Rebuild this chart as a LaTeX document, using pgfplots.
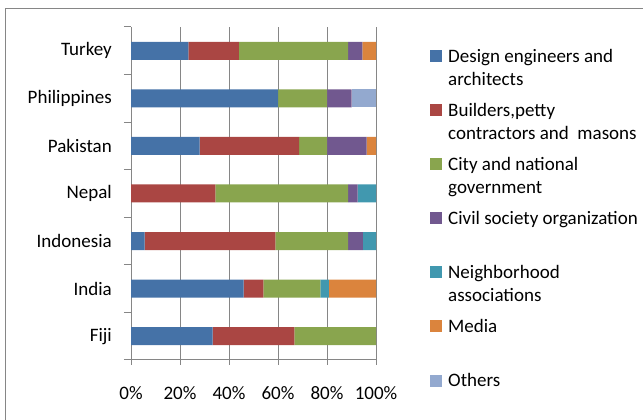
\documentclass[border=0pt]{standalone}
\usepackage{pgfplots}
\pgfplotsset{compat=1.18}
\usepackage{pgfplotstable}
\usepackage{fontspec}
\setmainfont{Carlito}

\definecolor{c1}{HTML}{4572A7}
\definecolor{c2}{HTML}{AA4643}
\definecolor{c3}{HTML}{89A54E}
\definecolor{c4}{HTML}{71588F}
\definecolor{c5}{HTML}{4198AF}
\definecolor{c6}{HTML}{DB843D}
\definecolor{c7}{HTML}{93A9CF}
\definecolor{linegray}{HTML}{868686}

\newcommand\cf{\fontsize{19bp}{23bp}\selectfont}

% y: 0=Fiji ... 6=Turkey; shares in percent
\pgfplotstableread{
y design builders govt civil neigh media others
0 33.3 33.4 33.3 0    0   0    0
1 46.0 8.0  23.3 0    3.5 19.2 0
2 5.6  53.3 29.7 6.0  5.4 0    0
3 0    34.4 54.2 3.9  7.5 0    0
4 28.0 40.6 11.4 16.2 0   3.8  0
5 60.0 0    20.0 10.0 0   0    10.0
6 23.4 20.6 44.6 5.8  0   5.6  0
}\shares

\pgfplotsset{
  mybar/.style={fill=#1, draw=none,
    legend image code/.code={\fill[##1] (0bp,0bp) rectangle (12bp,12bp);}},
}

\begin{document}
\begin{tikzpicture}
\useasboundingbox (0,0) rectangle (643bp,420bp);
\draw[line width=1bp, linegray] (5.5bp,411.5bp) rectangle (700bp,-50bp);
\begin{axis}[
    scale only axis,
    width=245bp, height=333bp,
    at={(131bp,60bp)}, anchor=south west,
    xbar stacked, bar width=18bp,
    xmin=0, xmax=100, ymin=-0.5, ymax=6.5,
    axis x line*=bottom, axis y line*=left,
    axis line style={linegray, line width=1bp},
    xtick={0,20,40,60,80,100},
    xticklabels={0\%,20\%,40\%,60\%,80\%,100\%},
    ytick={0,1,2,3,4,5,6},
    yticklabels={Fiji,India,Indonesia,Nepal,Pakistan,Philippines,Turkey},
    minor ytick={-0.5,0.5,1.5,2.5,3.5,4.5,5.5,6.5},
    tick align=outside,
    major tick length=5bp, minor tick length=7bp,
    major y tick style={draw=none},
    minor y tick style={linegray, line width=1bp},
    major x tick style={linegray, line width=1bp},
    xmajorgrids,
    grid style={linegray, line width=1bp},
    tick label style={font=\cf, text=black},
    xticklabel style={inner sep=0pt, yshift=-21bp},
    yticklabel style={inner sep=0pt, xshift=-14bp},
    legend style={at={(rel axis cs:1.2204,0.935)}, anchor=north west,
      draw=none, fill=none, inner sep=0pt, row sep=39.4bp, column sep=6bp,
      cells={anchor=base west}, nodes={inner sep=0pt}, font=\cf},
]
\addplot[mybar=c1] table[x=design, y=y]{\shares};
\addlegendentry{\parbox[t]{200bp}{Design engineers and\\architects}}
\addplot[mybar=c2] table[x=builders, y=y]{\shares};
\addlegendentry{\parbox[t]{200bp}{Builders,petty\\contractors and\ \ masons}}
\addplot[mybar=c3] table[x=govt, y=y]{\shares};
\addlegendentry{\parbox[t]{200bp}{City and national\\government}}
\addplot[mybar=c4] table[x=civil, y=y]{\shares};
\addlegendentry{\parbox[t]{200bp}{Civil society organization}}
\addplot[mybar=c5] table[x=neigh, y=y]{\shares};
\addlegendentry{\parbox[t]{200bp}{Neighborhood\\associations}}
\addplot[mybar=c6] table[x=media, y=y]{\shares};
\addlegendentry{\parbox[t]{200bp}{Media}}
\addplot[mybar=c7] table[x=others, y=y]{\shares};
\addlegendentry{\parbox[t]{200bp}{Others}}
\end{axis}
\end{tikzpicture}
\end{document}
